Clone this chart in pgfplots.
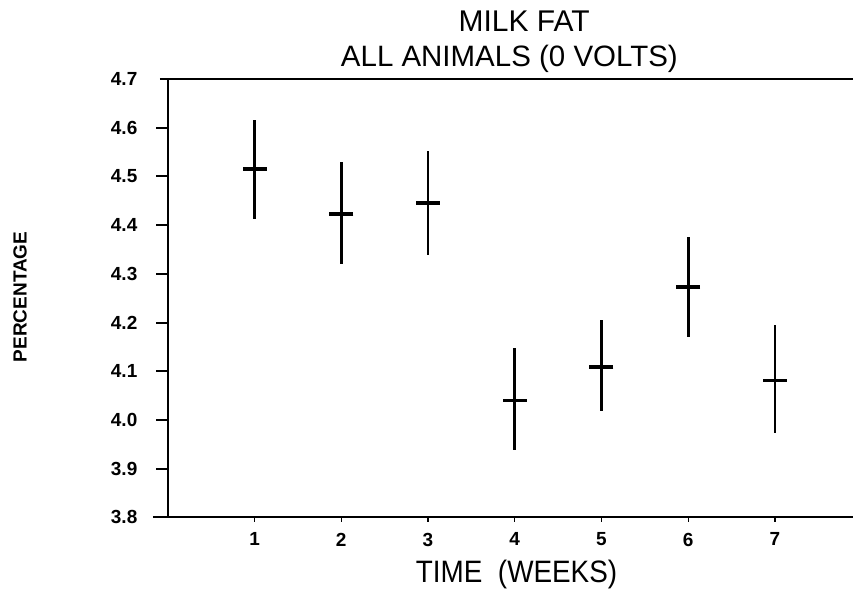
\documentclass[border=0pt]{standalone}
\usepackage{fontspec}
\setmainfont{Liberation Sans}
\usepackage{pgfplots}
\pgfplotsset{compat=1.18}

% weekly means with error bars
\pgfplotstableread{
x y     ep    em
1 4.515 0.101 0.102
2 4.423 0.107 0.103
3 4.445 0.107 0.106
4 4.040 0.108 0.101
5 4.109 0.097 0.090
6 4.273 0.103 0.102
7 4.081 0.114 0.107
}\milkfat

\begin{document}
\begin{tikzpicture}
\begin{axis}[
    at={(0pt,0pt)}, anchor=south west,
    scale only axis,
    width=686pt, height=439pt,
    xmin=0, xmax=7.9,
    ymin=3.8, ymax=4.7,
    clip=false,
    axis x line*=bottom, axis y line*=left,
    axis line style={line width=1.8pt, -},
    xtick={1,...,7},
    ytick={3.8,3.9,...,4.71},
    tick align=outside,
    major tick length=12pt,
    tick style={draw=none},
    /pgf/number format/assume math mode=true,
    yticklabel style={font=\fontsize{19}{21}\selectfont\bfseries, xshift=-15pt,
        /pgf/number format/.cd, fixed, fixed zerofill, precision=1},
    xticklabel style={font=\fontsize{19}{21}\selectfont\bfseries, yshift=0pt},
    title={MILK FAT},
    title style={font=\fontsize{30}{32}\selectfont, at={(axis description cs:0.520,1)},
        anchor=base, yshift=41pt},
    xlabel={TIME\ \ (WEEKS)},
    xlabel style={font=\fontsize{31}{33}\selectfont, xscale=0.9, at={(axis description cs:0.509,0)},
        anchor=base, yshift=-65pt},
    ylabel={PERCENTAGE},
    ylabel style={font=\fontsize{19}{21}\selectfont\bfseries, at={(axis description cs:-0.2157,0.503)},
        anchor=center},
]
\addplot+[only marks, black, mark=-, mark size=12pt,
    mark options={line width=3.8pt, black},
    error bars/.cd, y dir=both, y explicit,
    error bar style={line width=2.8pt, black}, error mark=none]
    table[x=x, y=y, y error plus=ep, y error minus=em] {\milkfat};

% frame pieces and ticks as in the original plot
\draw[line width=2pt] ([xshift=-8pt]rel axis cs:0,1) -- (rel axis cs:1,1);
\draw[line width=1.8pt] ([xshift=-15pt]rel axis cs:0,0) -- (rel axis cs:0,0);
\pgfplotsinvokeforeach{1,...,7}{
  \draw[line width=1.2pt] (axis cs:#1,3.8) -- ++(0pt,-5pt);
}
\pgfplotsinvokeforeach{3.9,4.0,4.1,4.2,4.3,4.4,4.5,4.6}{
  \draw[line width=2pt] (axis cs:0,#1) -- ++(-12pt,0pt);
}
\node[font=\fontsize{29.5}{31}\selectfont, anchor=base, yshift=12pt]
    at (axis description cs:0.4985,1) {ALL ANIMALS (0 VOLTS)};
\end{axis}
\path[use as bounding box] (-168pt,-78pt) rectangle (686pt,518pt);
\end{tikzpicture}
\end{document}
